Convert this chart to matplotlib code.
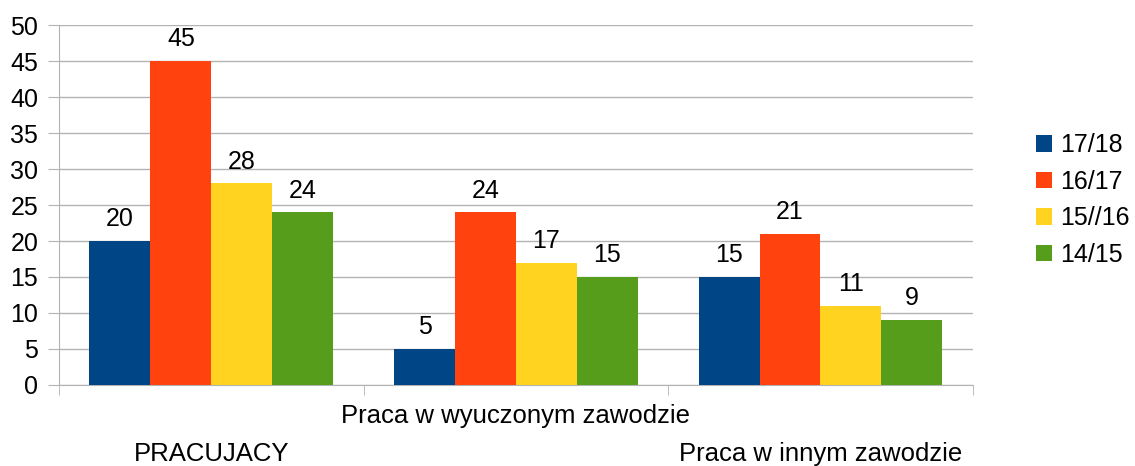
import matplotlib

matplotlib.use("Agg")

import matplotlib.pyplot as plt
import numpy as np

plt.rcParams["font.family"] = ["Liberation Sans", "DejaVu Sans"]

# ---------------------------------------------------------------------------
# Data
# ---------------------------------------------------------------------------

categories = ["PRACUJACY", "Praca w wyuczonym zawodzie", "Praca w innym zawodzie"]
series_names = ["17/18", "16/17", "15//16", "14/15"]
values_1718 = [20, 5, 15]
values_1617 = [45, 24, 21]
values_1516 = [28, 17, 11]
values_1415 = [24, 15, 9]

colors = ["#004586", "#ff420e", "#ffd320", "#579d1c"]
grid_color = "#b3b3b3"
FS = 18


def plot_chart(save_path="out.png"):
    fig = plt.figure(figsize=(11.35, 4.66), dpi=100)
    ax = fig.add_axes([0.052, 0.174, 0.805, 0.772])

    all_values = [values_1718, values_1617, values_1516, values_1415]
    x = np.arange(len(categories))
    bar_w = 0.2

    for i, (name, vals) in enumerate(zip(series_names, all_values)):
        offset = (i - 1.5) * bar_w
        bars = ax.bar(x + offset, vals, width=bar_w, color=colors[i],
                      label=name, zorder=3)
        ax.bar_label(bars, padding=7, fontsize=FS)

    ax.set_xlim(-0.5, len(categories) - 0.5)
    ax.set_ylim(0, 50)
    ax.set_yticks(range(0, 51, 5))
    ax.tick_params(axis="y", labelsize=FS, length=8, color=grid_color, pad=7)
    ax.yaxis.grid(True, color=grid_color, linewidth=1, zorder=0)

    # category labels, staggered
    ax.set_xticks(x)
    ax.set_xticklabels(categories, fontsize=18.5)
    ax.tick_params(axis="x", which="major", length=0)
    for j, tick in enumerate(ax.xaxis.get_major_ticks()):
        tick.set_pad(14 if j % 2 == 1 else 41)
    ax.set_xticks(np.arange(-0.5, len(categories), 1.0), minor=True)
    ax.tick_params(axis="x", which="minor", length=7, color=grid_color)

    for side in ["top", "right"]:
        ax.spines[side].set_visible(False)
    for side in ["left", "bottom"]:
        ax.spines[side].set_color(grid_color)

    ax.legend(loc="center left", bbox_to_anchor=(1.045, 0.514), frameon=False,
              fontsize=FS, handlelength=0.64, handleheight=0.64,
              handletextpad=0.3, labelspacing=0.5)

    fig.savefig(save_path, dpi=100)
    plt.close(fig)


if __name__ == "__main__":
    plot_chart()
